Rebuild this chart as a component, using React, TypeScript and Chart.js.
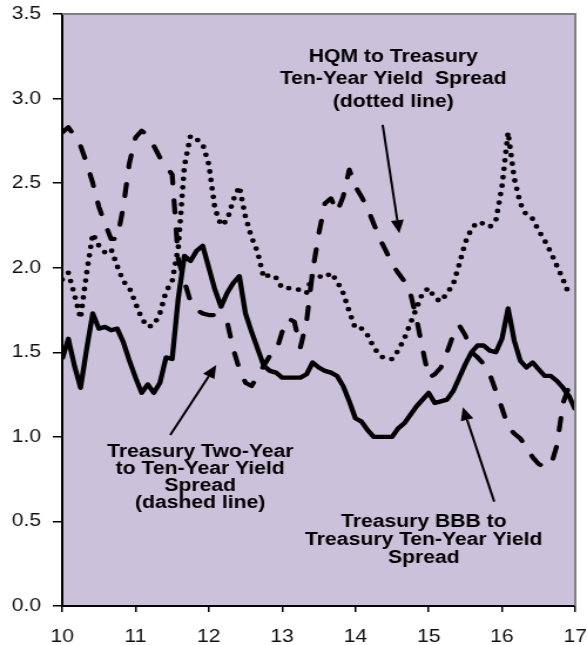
import React, { useEffect, useRef } from 'react';
import { Chart, registerables } from 'chart.js';

Chart.register(...registerables);

// ---- data (monthly, 2010 -> 2017) ----
const startYear = 10;
const endYear = 17;
const pointsPerYear = 12;
const yTickValues = [0, 0.5, 1.0, 1.5, 2.0, 2.5, 3.0, 3.5];

// Treasury BBB to Treasury Ten-Year Yield Spread (solid)
const bbbSpread = [
  1.46, 1.58, 1.42, 1.29, 1.52, 1.73, 1.64, 1.65, 1.63, 1.64, 1.56, 1.45,
  1.35, 1.26, 1.31, 1.26, 1.32, 1.47, 1.46, 1.82, 2.07, 2.04, 2.10, 2.13,
  2.00, 1.87, 1.77, 1.85, 1.91, 1.95, 1.73, 1.62, 1.52, 1.42, 1.39, 1.38,
  1.35, 1.35, 1.35, 1.35, 1.37, 1.44, 1.41, 1.39, 1.38, 1.36, 1.30, 1.21,
  1.11, 1.09, 1.04, 1.00, 1.00, 1.00, 1.00, 1.05, 1.08, 1.13, 1.18, 1.22,
  1.26, 1.20, 1.21, 1.22, 1.27, 1.35, 1.43, 1.50, 1.54, 1.54, 1.51, 1.50,
  1.58, 1.76, 1.57, 1.45, 1.41, 1.44, 1.40, 1.36, 1.36, 1.33, 1.29, 1.24,
  1.16,
];

// Treasury Two-Year to Ten-Year Yield Spread (dashed)
const twoToTenSpread = [
  2.80, 2.83, 2.78, 2.72, 2.62, 2.50, 2.36, 2.26, 2.17, 2.17, 2.36, 2.62,
  2.77, 2.81, 2.78, 2.72, 2.65, 2.60, 2.55, 2.05, 1.92, 1.80, 1.75, 1.73,
  1.72, 1.72, 1.71, 1.68, 1.52, 1.40, 1.32, 1.30, 1.36, 1.42, 1.48, 1.50,
  1.62, 1.70, 1.68, 1.53, 1.68, 1.98, 2.20, 2.38, 2.41, 2.33, 2.42, 2.58,
  2.48, 2.42, 2.35, 2.26, 2.17, 2.10, 2.02, 1.97, 1.92, 1.85, 1.70, 1.52,
  1.35, 1.37, 1.41, 1.50, 1.60, 1.66, 1.60, 1.50, 1.47, 1.43, 1.37, 1.27,
  1.17, 1.06, 1.02, 0.99, 0.94, 0.88, 0.84, 0.82, 0.83, 0.95, 1.20, 1.30,
  null,
];

// HQM to Treasury Ten-Year Yield Spread (dotted)
const hqmSpread = [
  1.93, 1.97, 1.84, 1.70, 1.97, 2.20, 2.13, 2.09, 2.11, 2.01, 1.92, 1.88,
  1.79, 1.70, 1.65, 1.66, 1.73, 1.86, 1.92, 2.12, 2.60, 2.78, 2.76, 2.73,
  2.61, 2.35, 2.25, 2.28, 2.40, 2.48, 2.30, 2.18, 2.09, 1.94, 1.96, 1.94,
  1.88, 1.88, 1.87, 1.87, 1.85, 1.96, 1.95, 1.94, 1.97, 1.92, 1.85, 1.74,
  1.64, 1.64, 1.60, 1.53, 1.48, 1.46, 1.46, 1.51, 1.58, 1.67, 1.76, 1.85,
  1.88, 1.82, 1.80, 1.85, 1.90, 2.02, 2.15, 2.23, 2.27, 2.26, 2.24, 2.28,
  2.48, 2.80, 2.53, 2.38, 2.31, 2.29, 2.22, 2.16, 2.09, 2.01, 1.93, 1.84,
  null,
];

// annotation texts
const hqmLabel = ['HQM to Treasury', 'Ten-Year Yield  Spread', '(dotted line)'];
const twoTenLabel = ['Treasury Two-Year', 'to Ten-Year Yield', 'Spread', '(dashed line)'];
const bbbLabel = ['Treasury BBB to', 'Treasury Ten-Year Yield', 'Spread'];

// ---- page geometry ----
const OUT_W = 587;
const OUT_H = 645;
const STRETCH = 1.174; // the reference is horizontally stretched
const INNER_W = Math.round(OUT_W / STRETCH);

const FONT_FAMILY = '"Liberation Sans", Arial, Helvetica, sans-serif';
const PLOT_BG = '#CCC1DA';

const toPoints = (arr: (number | null)[]) =>
  arr.map((v, i) => ({ x: startYear + i / pointsPerYear, y: v }));

type Note = { x: number; ys: number[]; lines: string[] };
type Arrow = { from: [number, number]; to: [number, number] };

const notes: Note[] = [
  { x: 14.516, ys: [3.248, 3.113, 2.982], lines: hqmLabel },
  { x: 11.883, ys: [0.913, 0.808, 0.710, 0.606], lines: twoTenLabel },
  { x: 14.932, ys: [0.497, 0.390, 0.281], lines: bbbLabel },
];

const arrows: Arrow[] = [
  { from: [14.372, 2.844], to: [14.599, 2.204] },
  { from: [11.474, 1.011], to: [12.101, 1.425] },
  { from: [15.894, 0.617], to: [15.467, 1.175] },
];

const zeroPadding = (scale: any) => {
  scale.paddingLeft = 0;
  scale.paddingRight = 0;
  scale.paddingTop = 0;
  scale.paddingBottom = 0;
};

const backgroundPlugin = {
  id: 'plotBackground',
  beforeDraw(chart: any) {
    const { ctx, chartArea: a } = chart;
    ctx.save();
    ctx.fillStyle = PLOT_BG;
    ctx.fillRect(a.left, a.top, a.right - a.left, a.bottom - a.top);
    ctx.restore();
  },
  afterDatasetsDraw(chart: any) {
    const { ctx, chartArea: a } = chart;
    ctx.save();
    ctx.strokeStyle = '#808080';
    ctx.lineWidth = 2;
    ctx.beginPath();
    ctx.moveTo(a.left, a.top);
    ctx.lineTo(a.right, a.top);
    ctx.lineTo(a.right, a.bottom);
    ctx.stroke();
    ctx.restore();
  },
};

const annotationPlugin = {
  id: 'notes',
  afterDraw(chart: any) {
    const { ctx } = chart;
    const xs = chart.scales.x;
    const ys = chart.scales.y;
    ctx.save();
    ctx.fillStyle = '#000';
    ctx.font = `bold 18px ${FONT_FAMILY}`;
    ctx.textAlign = 'center';
    ctx.textBaseline = 'middle';
    notes.forEach((n) => {
      const px = xs.getPixelForValue(n.x);
      n.lines.forEach((line, i) => {
        ctx.fillText(line, px, ys.getPixelForValue(n.ys[i]));
      });
    });
    arrows.forEach((ar) => {
      const x1 = xs.getPixelForValue(ar.from[0]);
      const y1 = ys.getPixelForValue(ar.from[1]);
      const x2 = xs.getPixelForValue(ar.to[0]);
      const y2 = ys.getPixelForValue(ar.to[1]);
      const ang = Math.atan2(y2 - y1, x2 - x1);
      const headLen = 13;
      const headW = 5.5;
      const bx = x2 - headLen * Math.cos(ang);
      const by = y2 - headLen * Math.sin(ang);
      ctx.strokeStyle = '#000';
      ctx.lineWidth = 2;
      ctx.beginPath();
      ctx.moveTo(x1, y1);
      ctx.lineTo(bx, by);
      ctx.stroke();
      ctx.beginPath();
      ctx.moveTo(x2, y2);
      ctx.lineTo(bx + headW * Math.sin(ang), by - headW * Math.cos(ang));
      ctx.lineTo(bx - headW * Math.sin(ang), by + headW * Math.cos(ang));
      ctx.closePath();
      ctx.fill();
    });
    ctx.restore();
  },
};

export default function App() {
  const ref = useRef<HTMLCanvasElement>(null);

  useEffect(() => {
    const canvas = ref.current;
    if (!canvas) return;
    const chart = new Chart(canvas, {
      type: 'line',
      data: {
        datasets: [
          {
            label: 'Treasury BBB to Treasury Ten-Year Yield Spread',
            data: toPoints(bbbSpread),
            borderColor: '#000',
            borderWidth: 4.3,
            borderJoinStyle: 'round',
            pointRadius: 0,
            tension: 0,
          },
          {
            label: 'Treasury Two-Year to Ten-Year Yield Spread',
            data: toPoints(twoToTenSpread),
            borderColor: '#000',
            borderWidth: 4.2,
            borderDash: [12, 17],
            borderCapStyle: 'round',
            borderJoinStyle: 'round',
            pointRadius: 0,
            tension: 0,
          },
          {
            label: 'HQM to Treasury Ten-Year Yield Spread',
            data: toPoints(hqmSpread),
            borderColor: '#000',
            borderWidth: 4.8,
            borderDash: [0, 8.5],
            borderCapStyle: 'round',
            borderJoinStyle: 'round',
            pointRadius: 0,
            tension: 0,
          },
        ],
      },
      options: {
        responsive: false,
        animation: false,
        devicePixelRatio: 1,
        layout: { padding: { top: 14, right: 10, left: 0, bottom: 0 } },
        plugins: {
          legend: { display: false },
          tooltip: { enabled: false },
          title: { display: false },
        },
        scales: {
          x: {
            type: 'linear',
            min: startYear,
            max: endYear,
            ticks: {
              stepSize: 1,
              color: '#111',
              font: { family: FONT_FAMILY, size: 18 },
              padding: 14,
              maxRotation: 0,
              callback: (v: any) => String(v),
            },
            grid: {
              drawOnChartArea: false,
              drawTicks: true,
              tickLength: 6,
              color: '#000',
              lineWidth: 1.5,
            },
            border: { display: true, color: '#000', width: 2 },
            afterFit: (scale: any) => {
              scale.height = 39;
              zeroPadding(scale);
            },
          },
          y: {
            type: 'linear',
            min: 0,
            max: 3.5,
            afterBuildTicks: (scale: any) => {
              scale.ticks = yTickValues.map((v) => ({ value: v }));
            },
            ticks: {
              color: '#111',
              font: { family: FONT_FAMILY, size: 18 },
              padding: 10,
              callback: (v: any) => Number(v).toFixed(1),
            },
            grid: {
              drawOnChartArea: false,
              drawTicks: true,
              tickLength: 8,
              color: '#000',
              lineWidth: 1.5,
            },
            border: { display: true, color: '#000', width: 2 },
            afterFit: (scale: any) => {
              scale.width = 53;
              zeroPadding(scale);
            },
          },
        },
      },
      plugins: [backgroundPlugin, annotationPlugin],
    } as any);
    return () => chart.destroy();
  }, []);

  return (
    <div style={{ position: 'absolute', left: 0, top: 0, width: OUT_W, height: OUT_H }}>
      <canvas
        ref={ref}
        width={INNER_W}
        height={OUT_H}
        style={{ width: `${OUT_W}px`, height: `${OUT_H}px`, display: 'block' }}
      />
    </div>
  );
}
